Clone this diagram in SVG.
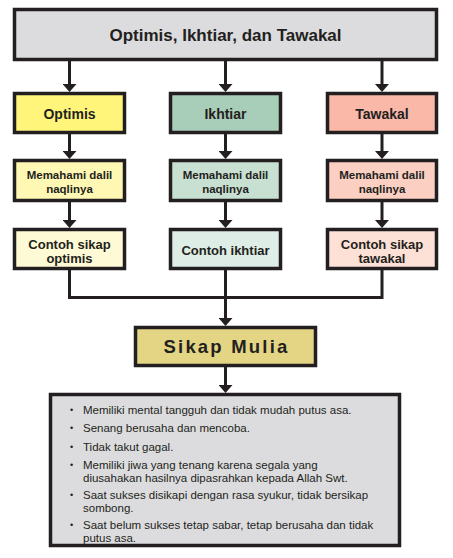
<svg xmlns="http://www.w3.org/2000/svg" width="453" height="558" viewBox="0 0 453 558">
<defs>
<style>
.box{stroke:#231f20;stroke-width:3.5}
.ln{stroke:#231f20;stroke-width:3;fill:none}
.t{font-family:"Liberation Sans",Arial,sans-serif;font-weight:bold;fill:#231f20;text-anchor:middle}
.li{font-family:"Liberation Sans",Arial,sans-serif;font-size:11.5px;fill:#231f20}
.bu{font-family:"Liberation Sans",Arial,sans-serif;font-size:9px;fill:#231f20}
</style>
<marker id="arr" markerUnits="userSpaceOnUse" markerWidth="9" markerHeight="14" viewBox="0 0 9 14" refX="1" refY="7" orient="auto">
<path d="M0,0 L8,7 L0,14 z" fill="#231f20"/>
</marker>
</defs>
<rect width="453" height="558" fill="#ffffff"/>

<g id="connectors">
<line class="ln" x1="69.5" y1="61" x2="69.5" y2="85" marker-end="url(#arr)"/>
<line class="ln" x1="225.5" y1="61" x2="225.5" y2="85" marker-end="url(#arr)"/>
<line class="ln" x1="382" y1="61" x2="382" y2="85" marker-end="url(#arr)"/>
<line class="ln" x1="69.5" y1="134" x2="69.5" y2="152" marker-end="url(#arr)"/>
<line class="ln" x1="225.5" y1="134" x2="225.5" y2="152" marker-end="url(#arr)"/>
<line class="ln" x1="382" y1="134" x2="382" y2="152" marker-end="url(#arr)"/>
<line class="ln" x1="69.5" y1="202" x2="69.5" y2="221" marker-end="url(#arr)"/>
<line class="ln" x1="225.5" y1="202" x2="225.5" y2="221" marker-end="url(#arr)"/>
<line class="ln" x1="382" y1="202" x2="382" y2="221" marker-end="url(#arr)"/>
<path class="ln" d="M69.5,270 V297.5 H382 V270"/>
<line class="ln" x1="225.5" y1="270" x2="225.5" y2="319" marker-end="url(#arr)"/>
<line class="ln" x1="225.5" y1="367" x2="225.5" y2="386" marker-end="url(#arr)"/>
</g>

<g id="top">
<rect class="box" x="14.5" y="9.5" width="422" height="50" fill="#dcdcde"/>
<text class="t" x="225.5" y="41" font-size="17">Optimis, Ikhtiar, dan Tawakal</text>
</g>

<g id="optimis">
<rect class="box" x="14.5" y="93.5" width="110" height="39" fill="#fff57a"/>
<text class="t" x="69.5" y="118.5" font-size="14">Optimis</text>
</g>
<g id="ikhtiar">
<rect class="box" x="170.5" y="93.5" width="110" height="39" fill="#a8cdb8"/>
<text class="t" x="225.5" y="118.5" font-size="14">Ikhtiar</text>
</g>
<g id="tawakal">
<rect class="box" x="327.5" y="93.5" width="109" height="39" fill="#f9b8a8"/>
<text class="t" x="382" y="118.5" font-size="14">Tawakal</text>
</g>

<g id="dalil-optimis">
<rect class="box" x="14.5" y="160.5" width="110" height="40" fill="#fff8b4"/>
<text class="t" x="69.5" y="179" font-size="11.5">Memahami dalil</text>
<text class="t" x="69.5" y="193" font-size="11.5">naqlinya</text>
</g>
<g id="dalil-ikhtiar">
<rect class="box" x="170.5" y="160.5" width="110" height="40" fill="#c8e0d2"/>
<text class="t" x="225.5" y="179" font-size="11.5">Memahami dalil</text>
<text class="t" x="225.5" y="193" font-size="11.5">naqlinya</text>
</g>
<g id="dalil-tawakal">
<rect class="box" x="327.5" y="160.5" width="109" height="40" fill="#fbcfc1"/>
<text class="t" x="382" y="179" font-size="11.5">Memahami dalil</text>
<text class="t" x="382" y="193" font-size="11.5">naqlinya</text>
</g>

<g id="contoh-optimis">
<rect class="box" x="14.5" y="229.5" width="110" height="39" fill="#fffad6"/>
<text class="t" x="69.5" y="248.5" font-size="13">Contoh sikap</text>
<text class="t" x="69.5" y="262.5" font-size="13">optimis</text>
</g>
<g id="contoh-ikhtiar">
<rect class="box" x="170.5" y="229.5" width="110" height="39" fill="#deede5"/>
<text class="t" x="225.5" y="254.5" font-size="13">Contoh ikhtiar</text>
</g>
<g id="contoh-tawakal">
<rect class="box" x="327.5" y="229.5" width="109" height="39" fill="#fde0d6"/>
<text class="t" x="382" y="248.5" font-size="13">Contoh sikap</text>
<text class="t" x="382" y="262.5" font-size="13">tawakal</text>
</g>

<g id="sikap-mulia">
<rect class="box" x="135.5" y="327.5" width="180" height="38" fill="#e3d584"/>
<text class="t" x="226.5" y="353" font-size="18.5" letter-spacing="2.2">Sikap Mulia</text>
</g>

<g id="list">
<rect class="box" x="50.5" y="394.5" width="349" height="151" fill="#dcdcde"/>
<text class="bu" x="70" y="413">•</text>
<text class="li" x="83" y="414">Memiliki mental tangguh dan tidak mudah putus asa.</text>
<text class="bu" x="70" y="431">•</text>
<text class="li" x="83" y="432">Senang berusaha dan mencoba.</text>
<text class="bu" x="70" y="450">•</text>
<text class="li" x="83" y="451">Tidak takut gagal.</text>
<text class="bu" x="70" y="467.5">•</text>
<text class="li" x="83" y="468.5">Memiliki jiwa yang tenang karena segala yang</text>
<text class="li" x="83" y="481.5">diusahakan hasilnya dipasrahkan kepada Allah Swt.</text>
<text class="bu" x="70" y="497.5">•</text>
<text class="li" x="83" y="498.5">Saat sukses disikapi dengan rasa syukur, tidak bersikap</text>
<text class="li" x="83" y="511.5">sombong.</text>
<text class="bu" x="70" y="527.5">•</text>
<text class="li" x="83" y="528.5">Saat belum sukses tetap sabar, tetap berusaha dan tidak</text>
<text class="li" x="83" y="541.5">putus asa.</text>
</g>
</svg>
